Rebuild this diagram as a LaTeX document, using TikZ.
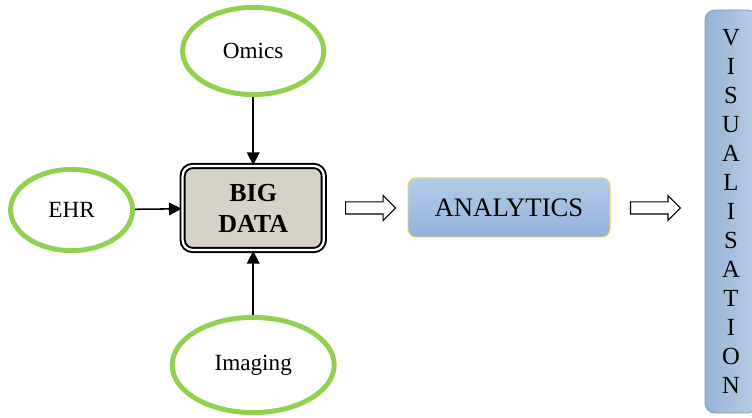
\documentclass[tikz,border=0pt]{standalone}
\usepackage{fontspec}
\setmainfont{Liberation Serif}
\usetikzlibrary{arrows.meta, positioning, shapes.geometric, shapes.arrows}

\definecolor{sourcegreen}{HTML}{92D050}
\definecolor{bigfill}{HTML}{D6D2C8}
\definecolor{anatop}{HTML}{B3CBE9}
\definecolor{anabottom}{HTML}{93B3DC}
\definecolor{anaborder}{HTML}{E3DD5C}
\definecolor{visleft}{HTML}{95B3D7}
\definecolor{visright}{HTML}{B9CDE6}
\definecolor{visborder}{HTML}{7F9DC6}

\begin{document}
\begin{tikzpicture}[
    every node/.style={font=\fontsize{16.5}{19}\selectfont},
    >={Triangle[length=9pt, width=9pt]},
    source/.style={ellipse, draw=sourcegreen, line width=3.5pt, inner sep=0pt},
    bigbox/.style={draw, double, double distance=1.6pt, line width=1.4pt, fill=bigfill, rounded corners=0.25cm,
        minimum width=3.53cm, minimum height=2.1cm, align=center, font=\fontsize{18.5}{22}\selectfont\bfseries},
    hollow/.style={single arrow, draw, line width=0.8pt, inner xsep=0pt, inner ysep=0.1375cm, minimum height=1.25cm,
        single arrow head extend=0.16cm, single arrow tip angle=90},
]

\useasboundingbox (0, 0) rectangle (18.8, 10.425);

% --- Data sources ---
\node[source, minimum width=3.53cm, minimum height=2.18cm] (omics) at (6.33, 9.15) {Omics};
\node[source, minimum width=3.05cm, minimum height=2.03cm] (ehr) at (1.79, 5.175) {EHR};
\node[source, minimum width=4.05cm, minimum height=2.38cm] (imaging) at (6.33, 1.3) {Imaging};

% --- Big data ---
\node[bigbox] (big) at (6.33, 5.225) {BIG\\DATA};

% --- Arrows into big data ---
\draw[->, line width=1.1pt] (omics) -- (big);
\draw[->, line width=1.1pt] (ehr) -- (big);
\draw[->, line width=1.1pt] (imaging) -- (big);

% --- Analytics ---
\node[hollow] (toana) at (9.19, 5.225) {};
\node[draw=anaborder, line width=0.7pt, rounded corners=0.2cm, top color=anatop, bottom color=anabottom,
    minimum width=5.05cm, minimum height=1.48cm, font=\fontsize{19}{22}\selectfont] (ana) at (12.725, 5.24) {ANALYTICS};

% --- Visualisation ---
\node[hollow] (tovis) at (16.31, 5.225) {};
\node[draw=visborder, line width=0.6pt, rounded corners=0.25cm, left color=visleft, right color=visright,
    minimum width=1.3cm, minimum height=10.075cm, align=center, font=\fontsize{17.5}{20.6}\selectfont]
    (vis) at (18.275, 5.1375) {V\\I\\S\\U\\A\\L\\I\\S\\A\\T\\I\\O\\N};

\end{tikzpicture}
\end{document}
